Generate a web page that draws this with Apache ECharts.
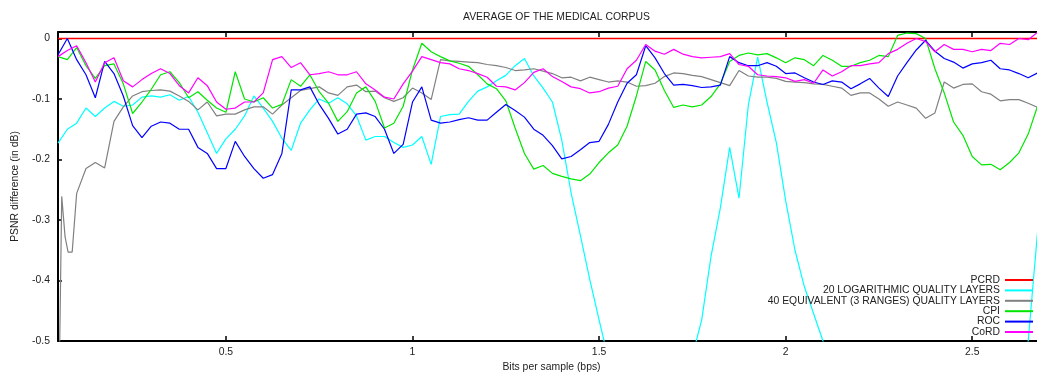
<!DOCTYPE html>
<html>
<head>
<meta charset="utf-8">
<script src="https://cdn.jsdelivr.net/npm/echarts@6/dist/echarts.min.js"></script>
<style>
  html, body { margin: 0; padding: 0; background: #fff; }
  #chart { width: 1037px; height: 372px; }
</style>
</head>
<body>
<div id="chart"></div>
<script>
// bits per sample (shared sampling grid)
const xs = [0.05,0.075,0.1,0.125,0.15,0.175,0.2,0.225,0.25,0.275,0.3,0.325,0.35,0.375,0.4,0.425,0.45,0.475,0.5,0.525,
  0.55,0.575,0.6,0.625,0.65,0.675,0.7,0.725,0.75,0.775,0.8,0.825,0.85,0.875,0.9,0.925,0.95,0.975,1,1.025,
  1.05,1.075,1.1,1.125,1.15,1.175,1.2,1.225,1.25,1.275,1.3,1.325,1.35,1.375,1.4,1.425,1.45,1.475,1.5,1.525,
  1.55,1.575,1.6,1.625,1.65,1.675,1.7,1.725,1.75,1.775,1.8,1.825,1.85,1.875,1.9,1.925,1.95,1.975,2,2.025,
  2.05,2.075,2.1,2.125,2.15,2.175,2.2,2.225,2.25,2.275,2.3,2.325,2.35,2.375,2.4,2.425,2.45,2.475,2.5,2.525,
  2.55,2.575,2.6,2.625,2.65,2.675];

// PSNR difference vs PCRD (dB)
const pcrd = [0, 0];
const pcrdX = [0.05, 2.695];

const logLayers = [-0.173,-0.150,-0.140,-0.115,-0.129,-0.115,-0.104,-0.112,-0.110,-0.097,
  -0.095,-0.097,-0.093,-0.102,-0.096,-0.122,-0.156,-0.190,-0.166,-0.150,
  -0.128,-0.095,-0.115,-0.137,-0.165,-0.185,-0.140,-0.118,-0.100,-0.107,
  -0.098,-0.108,-0.128,-0.168,-0.162,-0.162,-0.172,-0.180,-0.176,-0.162,
  -0.208,-0.129,-0.126,-0.125,-0.104,-0.087,-0.080,-0.070,-0.061,-0.045,
  -0.033,-0.062,-0.082,-0.105,-0.168,-0.255,-0.326,-0.398,-0.465,-0.53,
  -0.58,-0.62,-0.65,-0.66,-0.65,-0.62,-0.58,-0.55,-0.525,-0.465,
  -0.36,-0.28,-0.18,-0.264,-0.11,-0.031,-0.105,-0.172,-0.268,-0.35,
  -0.41,-0.455,-0.50,-0.54,-0.58,-0.61,-0.64,-0.66,-0.68,-0.69,
  -0.70,-0.70,-0.70,-0.69,-0.68,-0.67,-0.66,-0.65,-0.64,-0.62,
  -0.60,-0.58,-0.56,-0.54,-0.50,-0.32];

// the 40-layer curve starts with a steep climb before the grid
const eqLeadX = [0.052, 0.060, 0.069, 0.077, 0.088];
const eqLeadY = [-0.62, -0.261, -0.328, -0.353, -0.353];
const eqLayers = [null,null,-0.256,-0.215,-0.205,-0.214,-0.137,-0.113,-0.095,-0.088,
  -0.086,-0.085,-0.087,-0.095,-0.104,-0.118,-0.105,-0.128,-0.125,-0.125,
  -0.118,-0.113,-0.113,-0.125,-0.110,-0.098,-0.086,-0.083,-0.080,-0.090,
  -0.094,-0.080,-0.077,-0.088,-0.087,-0.098,-0.104,-0.098,-0.082,-0.090,
  -0.101,-0.035,-0.037,-0.038,-0.039,-0.040,-0.043,-0.045,-0.048,-0.053,
  -0.052,-0.050,-0.054,-0.058,-0.065,-0.064,-0.070,-0.064,-0.068,-0.072,
  -0.070,-0.072,-0.079,-0.078,-0.074,-0.063,-0.057,-0.058,-0.061,-0.063,
  -0.068,-0.073,-0.078,-0.053,-0.062,-0.064,-0.064,-0.066,-0.071,-0.072,
  -0.073,-0.075,-0.076,-0.079,-0.082,-0.094,-0.090,-0.090,-0.100,-0.112,
  -0.105,-0.110,-0.115,-0.132,-0.123,-0.072,-0.082,-0.076,-0.075,-0.088,
  -0.092,-0.103,-0.101,-0.101,-0.107,-0.114];

const cpi = [-0.030,-0.035,-0.015,-0.045,-0.066,-0.045,-0.042,-0.075,-0.124,-0.105,
  -0.084,-0.060,-0.055,-0.073,-0.098,-0.088,-0.102,-0.115,-0.122,-0.055,
  -0.100,-0.105,-0.098,-0.115,-0.109,-0.068,-0.079,-0.060,-0.088,-0.107,
  -0.137,-0.121,-0.090,-0.080,-0.104,-0.148,-0.140,-0.112,-0.052,-0.008,
  -0.022,-0.030,-0.037,-0.041,-0.046,-0.060,-0.075,-0.083,-0.103,-0.148,
  -0.190,-0.216,-0.210,-0.223,-0.228,-0.232,-0.235,-0.224,-0.205,-0.189,
  -0.176,-0.145,-0.095,-0.038,-0.052,-0.086,-0.114,-0.110,-0.113,-0.110,
  -0.096,-0.075,-0.038,-0.028,-0.024,-0.027,-0.025,-0.032,-0.040,-0.032,
  -0.035,-0.045,-0.028,-0.036,-0.046,-0.046,-0.040,-0.036,-0.028,-0.030,
  0.005,0.009,0.008,0.000,-0.050,-0.090,-0.138,-0.160,-0.195,-0.209,
  -0.208,-0.217,-0.205,-0.189,-0.158,-0.112];

const roc = [-0.027,0.000,-0.035,-0.060,-0.098,-0.038,-0.058,-0.095,-0.144,-0.164,
  -0.145,-0.138,-0.140,-0.150,-0.150,-0.180,-0.190,-0.215,-0.215,-0.170,
  -0.195,-0.215,-0.231,-0.225,-0.190,-0.085,-0.085,-0.080,-0.109,-0.132,
  -0.158,-0.150,-0.125,-0.123,-0.129,-0.150,-0.190,-0.175,-0.105,-0.080,
  -0.135,-0.140,-0.138,-0.134,-0.131,-0.135,-0.135,-0.122,-0.109,-0.119,
  -0.130,-0.150,-0.160,-0.177,-0.199,-0.195,-0.184,-0.172,-0.170,-0.142,
  -0.105,-0.074,-0.060,-0.012,-0.032,-0.058,-0.077,-0.076,-0.078,-0.081,
  -0.080,-0.077,-0.030,-0.040,-0.045,-0.045,-0.040,-0.046,-0.058,-0.057,
  -0.065,-0.072,-0.076,-0.070,-0.072,-0.083,-0.075,-0.066,-0.082,-0.096,
  -0.062,-0.040,-0.019,-0.003,-0.021,-0.033,-0.039,-0.049,-0.042,-0.040,
  -0.036,-0.050,-0.052,-0.058,-0.065,-0.057];

const cord = [-0.030,-0.020,-0.012,-0.040,-0.072,-0.040,-0.032,-0.070,-0.080,-0.068,
  -0.058,-0.050,-0.058,-0.078,-0.090,-0.065,-0.078,-0.105,-0.117,-0.115,
  -0.105,-0.105,-0.090,-0.035,-0.030,-0.048,-0.040,-0.060,-0.058,-0.055,
  -0.060,-0.060,-0.055,-0.075,-0.085,-0.097,-0.100,-0.075,-0.054,-0.030,
  -0.035,-0.040,-0.042,-0.050,-0.053,-0.058,-0.064,-0.079,-0.080,-0.085,
  -0.073,-0.056,-0.050,-0.063,-0.071,-0.080,-0.083,-0.090,-0.088,-0.082,
  -0.079,-0.050,-0.036,-0.010,-0.021,-0.026,-0.018,-0.026,-0.030,-0.032,
  -0.031,-0.030,-0.025,-0.043,-0.046,-0.060,-0.062,-0.063,-0.065,-0.071,
  -0.068,-0.074,-0.052,-0.062,-0.055,-0.045,-0.045,-0.042,-0.040,-0.025,
  -0.018,-0.008,0.000,-0.005,-0.022,-0.010,-0.018,-0.018,-0.022,-0.018,
  -0.020,-0.008,-0.010,0.000,-0.002,0.010];

const xTicks = [0.5, 1, 1.5, 2, 2.5];
const yTicks = [-0.5, -0.4, -0.3, -0.2, -0.1, 0];

const names = ['PCRD', '20 LOGARITHMIC QUALITY LAYERS', '40 EQUIVALENT (3 RANGES) QUALITY LAYERS', 'CPI', 'ROC', 'CoRD'];
const colors = ['#ff0000', '#00ffff', '#808080', '#00e600', '#0000ff', '#ff00ff'];

const FONT = '"Liberation Sans", Arial, sans-serif';
const FS = 10.4;

function pairs(xv, yv) {
  const out = [];
  yv.forEach((y, i) => { if (y !== null) out.push([xv[i], y]); });
  return out;
}

const eqData = pairs(eqLeadX, eqLeadY).concat(pairs(xs, eqLayers));
const seriesData = [pairs(pcrdX, pcrd), pairs(xs, logLayers), eqData, pairs(xs, cpi), pairs(xs, roc), pairs(xs, cord)];

const chart = echarts.init(document.getElementById('chart'), null, { renderer: 'canvas' });

const axisLineStyle = { color: '#000', width: 2 };

chart.setOption({
  animation: false,
  backgroundColor: '#fff',
  textStyle: { fontFamily: FONT },
  title: {
    text: 'AVERAGE OF THE MEDICAL CORPUS',
    left: 458,
    top: 7,
    textStyle: { fontFamily: FONT, fontSize: FS, fontWeight: 'normal', color: '#222' }
  },
  legend: {
    data: names.map((n) => ({ name: n, icon: 'path://M0,0L28,0L28,2L0,2Z' })),
    orient: 'vertical',
    align: 'right',
    right: 4,
    top: 275,
    padding: 0,
    itemGap: 0.4,
    itemWidth: 28,
    itemHeight: 10,
    symbolKeepAspect: true,
    textStyle: { fontFamily: FONT, fontSize: FS, color: '#222', lineHeight: 10 }
  },
  grid: { left: 58, right: -8, top: 32, bottom: 31, outerBoundsMode: 'none', containLabel: false },
  xAxis: [
    {
      type: 'value',
      min: 0.05,
      max: 2.695,
      name: 'Bits per sample (bps)',
      nameLocation: 'middle',
      nameGap: 20,
      nameTextStyle: { fontFamily: FONT, fontSize: FS, color: '#222' },
      axisLine: { show: true, onZero: false, lineStyle: axisLineStyle },
      axisTick: { show: true, inside: true, length: 5, customValues: xTicks, lineStyle: { color: '#000', width: 1.5 } },
      axisLabel: { customValues: xTicks, margin: 6, fontSize: FS, color: '#222', fontFamily: FONT },
      splitLine: { show: false }
    },
    {
      type: 'value',
      position: 'top',
      min: 0.05,
      max: 2.695,
      axisLine: { show: true, onZero: false, lineStyle: axisLineStyle },
      axisTick: { show: true, inside: true, length: 5, customValues: xTicks, lineStyle: { color: '#000', width: 1.5 } },
      axisLabel: { show: false },
      splitLine: { show: false }
    }
  ],
  yAxis: {
    type: 'value',
    min: -0.5,
    max: 0.0107,
    name: 'PSNR difference (in dB)',
    nameLocation: 'middle',
    nameGap: 38,
    nameTextStyle: { fontFamily: FONT, fontSize: FS, color: '#222' },
    axisLine: { show: true, onZero: false, lineStyle: axisLineStyle },
    axisTick: { show: true, inside: true, length: 4, customValues: yTicks, lineStyle: { color: '#000', width: 1.5 } },
    axisLabel: {
      customValues: yTicks,
      margin: 8,
      fontSize: FS,
      color: '#222',
      fontFamily: FONT,
      formatter: (v) => (Math.abs(v) < 1e-9 ? '0' : String(Math.round(v * 10) / 10))
    },
    splitLine: { show: false }
  },
  series: names.map((name, i) => ({
    name: name,
    type: 'line',
    xAxisIndex: 0,
    data: seriesData[i],
    symbol: 'none',
    clip: true,
    lineStyle: { color: colors[i], width: i === 0 ? 1.5 : 1.2 },
    itemStyle: { color: colors[i] }
  }))
});
</script>
</body>
</html>
